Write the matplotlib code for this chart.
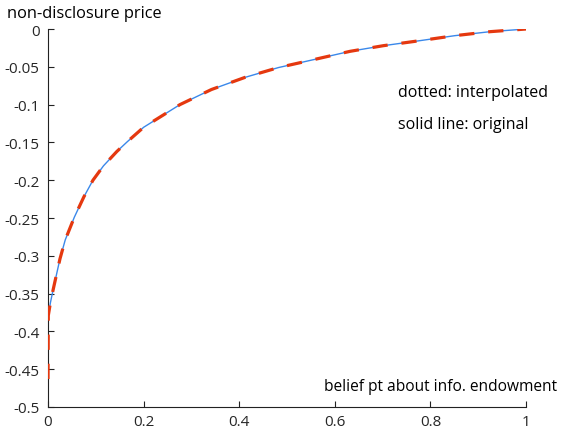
import matplotlib
matplotlib.use("Agg")
import matplotlib.pyplot as plt
import numpy as np

# belief pt and the non-disclosure price
belief = [0.0, 0.0006, 0.005, 0.011, 0.018, 0.025, 0.036, 0.055, 0.075, 0.094,
          0.116, 0.144, 0.166, 0.2, 0.276, 0.342, 0.412, 0.482, 0.555, 0.632,
          0.701, 0.778, 0.851, 0.925, 1.0]
price = [-0.463, -0.379, -0.362, -0.344, -0.324, -0.304, -0.279, -0.249,
         -0.222, -0.2, -0.181, -0.162, -0.149, -0.13, -0.1, -0.08, -0.064,
         -0.051, -0.0406, -0.0295, -0.0221, -0.0154, -0.0088, -0.0035, 0.0]

xticks = [0, 0.2, 0.4, 0.6, 0.8, 1]
yticks = [0, -0.05, -0.1, -0.15, -0.2, -0.25, -0.3, -0.35, -0.4, -0.45, -0.5]
ytick_labels = ['0', '-0.05', '-0.1', '-0.15', '-0.2', '-0.25', '-0.3',
                '-0.35', '-0.4', '-0.45', '-0.5']

plt.rcParams['font.family'] = ['Open Sans', 'DejaVu Sans']
plt.rcParams['lines.scale_dashes'] = False

fig = plt.figure(figsize=(5.63, 4.27), dpi=100)
ax = fig.add_axes([0.0853, 0.0445, 0.849, 0.8852])

ax.plot(belief, price, color='#3a88ea', lw=1.0, zorder=2)
ax.plot(belief, price, color='#e5380f', lw=2.3, dashes=(11, 10), zorder=3)

ax.set_xlim(0, 1)
ax.set_ylim(-0.5, 0)
ax.set_xticks(xticks)
ax.set_xticklabels([f'{t:g}' for t in xticks])
ax.set_yticks(yticks)
ax.set_yticklabels(ytick_labels)

for s in ['top', 'right']:
    ax.spines[s].set_visible(False)
for s in ['left', 'bottom']:
    ax.spines[s].set_linewidth(0.8)
    ax.spines[s].set_color('#222222')
ax.tick_params(direction='in', length=4, width=0.8, color='#222222',
               labelsize=11, labelcolor='#262626')
ax.tick_params(axis='x', pad=5)
ax.tick_params(axis='y', pad=6)

fig.text(7 / 563, 1 - 14 / 427, 'non-disclosure price', fontsize=11.8,
         ha='left', va='center')
ax.text(398 / 563, 1 - 93 / 427, 'dotted: interpolated', fontsize=11.5,
        ha='left', va='center', transform=fig.transFigure)
ax.text(398 / 563, 1 - 125 / 427, 'solid line: original', fontsize=11.5,
        ha='left', va='center', transform=fig.transFigure)
ax.text(557 / 563, 1 - 387 / 427, 'belief pt about info. endowment',
        fontsize=11.2, ha='right', va='center', transform=fig.transFigure)

fig.savefig('out.png', dpi=100)
